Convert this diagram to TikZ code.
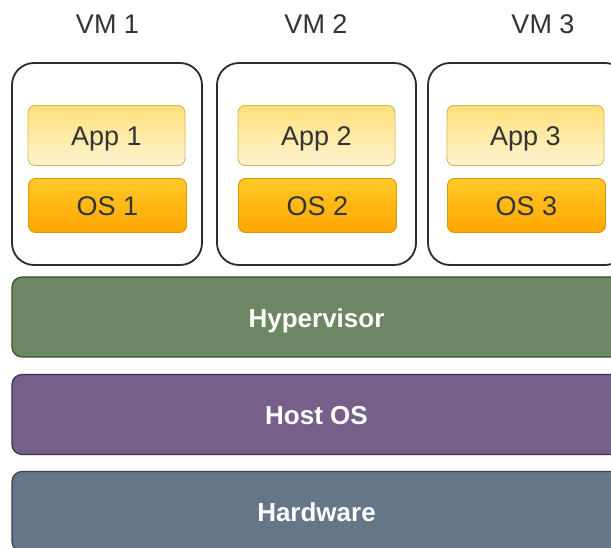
\documentclass[tikz,border=0pt]{standalone}
\usepackage{fontspec}
\setmainfont{Liberation Sans}
\definecolor{labelgray}{HTML}{333333}
\definecolor{vmstroke}{HTML}{2B2B2B}
\definecolor{appTop}{HTML}{FFE07A}
\definecolor{appBot}{HTML}{FFF4D2}
\definecolor{appStroke}{HTML}{D6B656}
\definecolor{osTop}{HTML}{FFC928}
\definecolor{osBot}{HTML}{FFA500}
\definecolor{osStroke}{HTML}{D79B00}
\definecolor{hypFill}{HTML}{6D8764}
\definecolor{hypStroke}{HTML}{3A5431}
\definecolor{hostFill}{HTML}{76608A}
\definecolor{hostStroke}{HTML}{432D57}
\definecolor{hwFill}{HTML}{647687}
\definecolor{hwStroke}{HTML}{314354}
\tikzset{
  vmbox/.style={draw=vmstroke, line width=1.8pt, rounded corners=22pt, fill=white,
    minimum height=202pt, inner sep=0pt},
  vmlabel/.style={text=labelgray, font=\fontsize{27}{30}\selectfont,
    text height=19.5pt, text depth=0pt, inner sep=0pt},
  appbox/.style={draw=appStroke, line width=0.9pt, rounded corners=7pt,
    top color=appTop, bottom color=appBot, minimum width=157pt, minimum height=60pt,
    text=labelgray, font=\fontsize{27}{30}\selectfont,
    text height=19.5pt, text depth=0pt, inner sep=0pt},
  osbox/.style={draw=osStroke, line width=0.9pt, rounded corners=7pt,
    top color=osTop, bottom color=osBot, minimum width=158pt, minimum height=54pt,
    text=labelgray, font=\fontsize{27}{30}\selectfont,
    text height=19.5pt, text depth=0pt, inner sep=0pt},
  bar/.style={line width=1.2pt, rounded corners=10pt, minimum width=612pt,
    minimum height=80pt, text=white, font=\bfseries\fontsize{26}{30}\selectfont,
    text height=19pt, text depth=0pt, inner sep=0pt},
}
\begin{document}
\begin{tikzpicture}[x=1pt, y=-1pt]
\useasboundingbox (0,0) rectangle (611,548);
% VM labels
\node[vmlabel] (l1) at (107.5,24) {VM 1};
\node[vmlabel] (l2) at (316,24) {VM 2};
\node[vmlabel] (l3) at (543,24) {VM 3};
% VM boxes
\node[vmbox, minimum width=190pt] (vm1) at (107,164) {};
\node[vmbox, minimum width=199pt] (vm2) at (316.5,164) {};
\node[vmbox, minimum width=199pt] (vm3) at (527.5,164) {};
% Apps
\node[appbox] (app1) at (106.5,135.5) {App 1};
\node[appbox] (app2) at (316.5,135.5) {App 2};
\node[appbox] (app3) at (525.5,135.5) {App 3};
% OSes
\node[osbox] (os1) at (107.5,205.5) {OS 1};
\node[osbox] (os2) at (317.5,205.5) {OS 2};
\node[osbox] (os3) at (526.5,205.5) {OS 3};
% Bars
\node[bar, draw=hypStroke, fill=hypFill] (hyp) at (318,317) {};
\node[bar, draw=hostStroke, fill=hostFill] (host) at (318,414.5) {};
\node[bar, draw=hwStroke, fill=hwFill] (hw) at (318,511.5) {};
\node[bar, draw=none, fill=none, minimum width=0pt, minimum height=0pt] (hypt) at (316.5,317.5) {Hypervisor};
\node[bar, draw=none, fill=none, minimum width=0pt, minimum height=0pt] (hostt) at (316.5,414.5) {Host OS};
\node[bar, draw=none, fill=none, minimum width=0pt, minimum height=0pt] (hwt) at (316.5,512) {Hardware};
\end{tikzpicture}
\end{document}
